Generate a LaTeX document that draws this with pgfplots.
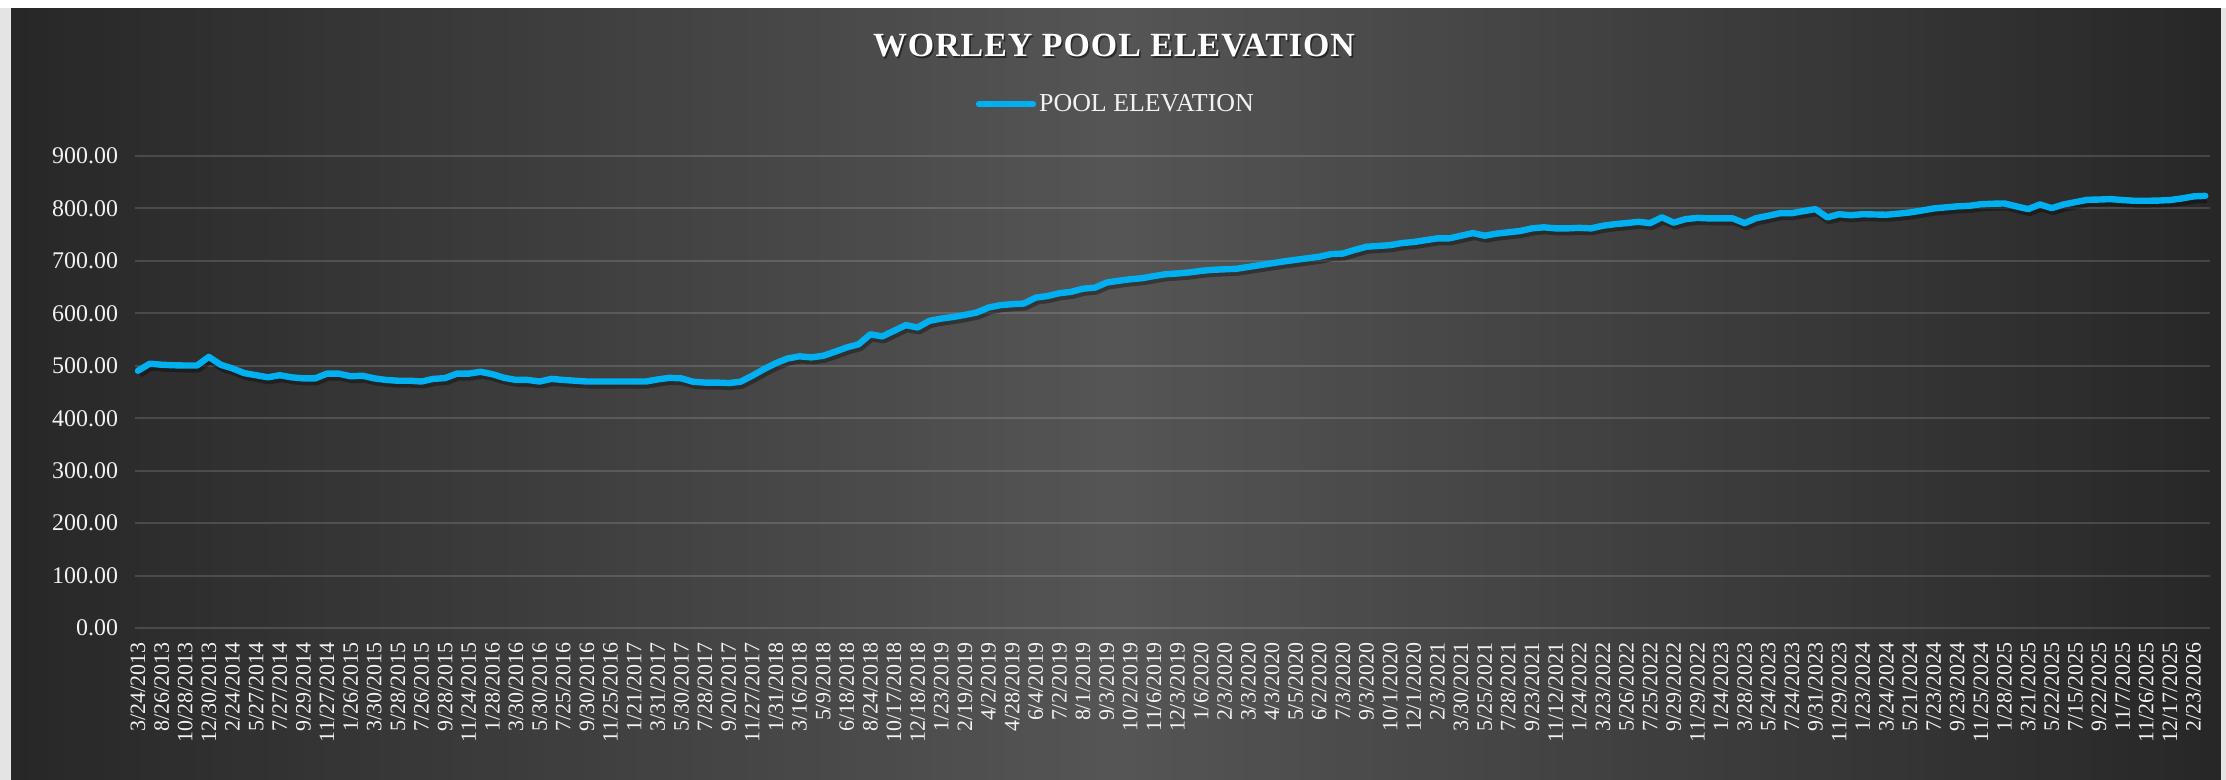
\documentclass[border=0pt]{standalone}
\usepackage{pgfplots}
\usepackage{pgfplotstable}
\pgfplotsset{compat=1.18}
\usepackage{fontspec}
\setmainfont{Liberation Serif}
\definecolor{stripcol}{HTML}{E4E4E4}
\definecolor{bgL}{HTML}{272727}
\definecolor{bgM}{HTML}{555555}
\definecolor{linecol}{HTML}{00B0F0}
\definecolor{txt}{HTML}{F2F2F2}
\pgfplotstableread{
x y
0 490.5
1 504
2 502
3 501
4 500.5
5 500.5
6 517
7 502
8 495
9 486
10 482
11 478
12 482
13 478
14 476
15 476
16 485
17 485
18 480
19 481
20 476
21 473
22 471.5
23 471.5
24 470
25 475
26 476.5
27 485
28 485
29 488.5
30 484
31 477
32 473
33 473
34 470
35 475
36 473
37 471.5
38 470
39 470
40 470
41 470
42 470
43 470
44 474
45 477
46 476
47 469.5
48 468
49 468
50 467
51 469.5
52 481
53 493.7
54 505
55 514
56 518
57 516
58 519
59 526.7
60 535
61 541
62 560
63 556
64 566.7
65 577.5
66 573
67 585.7
68 590
69 593
70 597
71 601.6
72 611
73 615.6
74 617.5
75 618.7
76 630
77 633
78 638.4
79 641
80 647
81 649
82 658.7
83 662
84 665
85 667
86 671
87 674.6
88 676
89 678
90 681
91 683
92 684
93 685
94 688.5
95 692
96 695.5
97 699
98 702
99 705
100 708
101 713
102 714
103 721
104 727
105 728.5
106 730
107 734
108 736
109 739.5
110 743
111 743
112 748
113 753
114 748
115 752
116 754.5
117 757
118 762
119 764
120 762
121 762
122 763
123 762
124 767
125 770
126 772
127 774.5
128 772
129 783
130 773
131 779.6
132 782
133 781
134 781
135 781
136 772
137 781.6
138 786
139 791
140 791
141 795
142 798.7
143 783
144 789
145 787
146 789
147 788.5
148 788
149 790
150 792.4
151 796
152 800
153 802
154 804
155 805
156 808
157 809
158 809.5
159 804
160 798.7
161 807.6
162 800.6
163 807.6
164 812
165 816.5
166 817
167 817.8
168 816
169 814.6
170 814.6
171 815
172 816
173 819
174 823
175 824
}\pooldata
\begin{document}
\begin{tikzpicture}
\useasboundingbox (0bp,0bp) rectangle (1113bp,390bp);
\fill[stripcol] (0bp,0bp) rectangle (1113bp,390bp);
\fill[white] (0bp,386bp) rectangle (1113bp,390bp);
\foreach \i in {0,...,119} {
  \pgfmathsetmacro{\p}{100*(1-abs(2*(\i+0.5)/120-1))}
  \pgfmathsetmacro{\xa}{5.5+\i*9.204}
  \pgfmathsetmacro{\xb}{5.5+(\i+1)*9.204+0.3}
  \fill[bgM!\p!bgL] (\xa bp,0bp) rectangle (\xb bp,386.2bp);
}
\begin{axis}[
  at={(67.5bp,76bp)}, anchor=south west,
  scale only axis, width=1037.5bp, height=236bp,
  xmin=-0.25, xmax=175.4, ymin=0, ymax=900,
  ytick={0,100,...,900},
  xtick={0,2,...,174},
  xticklabels={3/24/2013,8/26/2013,10/28/2013,12/30/2013,2/24/2014,5/27/2014,7/27/2014,9/29/2014,11/27/2014,1/26/2015,3/30/2015,5/28/2015,7/26/2015,9/28/2015,11/24/2015,1/28/2016,3/30/2016,5/30/2016,7/25/2016,9/30/2016,11/25/2016,1/21/2017,3/31/2017,5/30/2017,7/28/2017,9/20/2017,11/27/2017,1/31/2018,3/16/2018,5/9/2018,6/18/2018,8/24/2018,10/17/2018,12/18/2018,1/23/2019,2/19/2019,4/2/2019,4/28/2019,6/4/2019,7/2/2019,8/1/2019,9/3/2019,10/2/2019,11/6/2019,12/3/2019,1/6/2020,2/3/2020,3/3/2020,4/3/2020,5/5/2020,6/2/2020,7/3/2020,9/3/2020,10/1/2020,12/1/2020,2/3/2021,3/30/2021,5/25/2021,7/28/2021,9/23/2021,11/12/2021,1/24/2022,3/23/2022,5/26/2022,7/25/2022,9/29/2022,11/29/2022,1/24/2023,3/28/2023,5/24/2023,7/24/2023,9/31/2023,11/29/2023,1/23/2024,3/24/2024,5/21/2024,7/23/2024,9/23/2024,11/25/2024,1/28/2025,3/21/2025,5/22/2025,7/15/2025,9/22/2025,11/7/2025,11/26/2025,12/17/2025,2/23/2026},
  xticklabel style={rotate=90, anchor=east, font=\fontsize{11}{13}\selectfont, text=txt},
  yticklabel style={font=\fontsize{12}{14}\selectfont, text=txt},
  xticklabel shift=4bp,
  yticklabel shift=5bp,
  /pgf/number format/.cd, fixed, fixed zerofill, precision=2, assume math mode=true,
  /pgfplots/.cd,
  axis line style={draw=none},
  major tick length=0pt,
  ymajorgrids,
  grid style={white, opacity=0.14, line width=1bp},
  legend style={at={(0.405,1.11)}, anchor=west, draw=none, fill=none,
    inner sep=0pt, font=\fontsize{13}{15}\selectfont, text=txt,
    nodes={inner sep=1.5bp}},
  legend image code/.code={\draw[#1, line width=3.2bp, line cap=round] (0bp,0bp) -- (27bp,0bp);},
]
\addplot[black, opacity=0.35, line width=3.4bp, line join=round, xshift=0.8bp, yshift=-1.8bp, forget plot] table[x=x,y=y] {\pooldata};
\addplot[linecol, line width=3.2bp, line join=round, line cap=round] table[x=x,y=y] {\pooldata};
\addlegendentry{POOL ELEVATION}
\end{axis}
\node[font=\bfseries\fontsize{17}{20}\selectfont\addfontfeature{LetterSpace=3}, text=black, opacity=0.5] at (557.8bp,366.2bp) {WORLEY POOL ELEVATION};
\node[font=\bfseries\fontsize{17}{20}\selectfont\addfontfeature{LetterSpace=3}, text=white] at (557bp,367bp) {WORLEY POOL ELEVATION};
\end{tikzpicture}
\end{document}
